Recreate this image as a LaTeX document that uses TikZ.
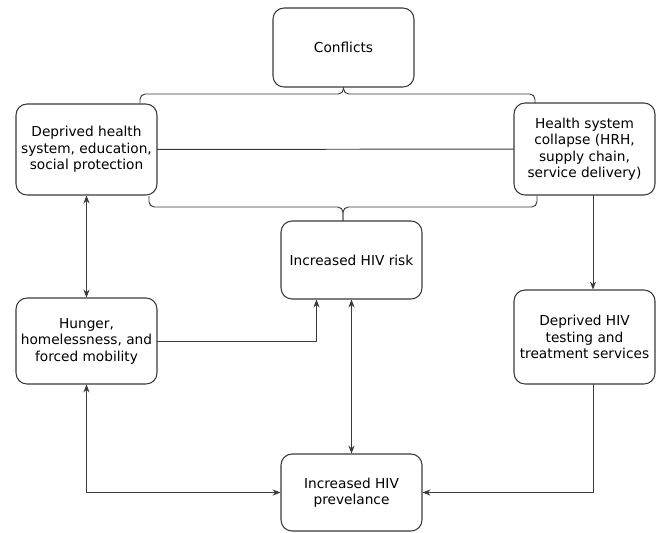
\documentclass[tikz,border=0pt]{standalone}
\usepackage{fontspec}
\setmainfont{DejaVu Sans}
\usetikzlibrary{arrows.meta,calc}
\definecolor{edgegray}{HTML}{3A3A3A}
\begin{document}
\begin{tikzpicture}[x=0.02cm,y=-0.02cm,font=\fontsize{7.8}{9.4}\selectfont,line join=round,line cap=round,
		>={Stealth[length=4.5pt,width=3.5pt]},
		box/.style={draw=edgegray,line width=0.6pt,rounded corners=0.22cm,align=center,minimum width=2.82cm,inner sep=2pt},
		link/.style={draw=edgegray,line width=0.55pt}]
	\useasboundingbox (0,0) rectangle (657,532);
	
	% boxes
	\node[box,minimum height=1.58cm] (conf) at (343.5,47.5) {Conflicts};
	\node[box,minimum height=1.82cm] (dhs) at (86.5,149.5) {Deprived health\\system, education,\\social protection};
	\node[box,minimum height=1.84cm] (hsc) at (584.5,149) {Health system\\collapse (HRH,\\supply chain,\\service delivery)};
	\node[box,minimum height=1.56cm] (risk) at (351.5,260) {Increased HIV risk};
	\node[box,minimum height=1.72cm] (hunger) at (86.5,341) {Hunger,\\homelessness, and\\forced mobility};
	\node[box,minimum height=1.88cm] (dhiv) at (584.5,337) {Deprived HIV\\testing and\\treatment services};
	\node[box,minimum height=1.54cm] (prev) at (351.5,492.5) {Increased HIV\\prevelance};
	
	% brace ends
	\coordinate (TL) at (140,103);
	\coordinate (TR) at (535,103);
	\coordinate (BL) at (149,196);
	\coordinate (BR) at (537,196);
	
	% braces
	\draw[link,rounded corners=3pt] (TL) |- (conf.south|-0,94) -- (conf.south);
	\draw[link,rounded corners=3pt] (TR) |- (conf.south|-0,94) -- (conf.south);
	\draw[link,rounded corners=3pt] (BL) |- (343,207) -- (343,221);
	\draw[link,rounded corners=3pt] (BR) |- (343,207) -- (343,221);
	
	\draw[link] (dhs) -- (hsc);
	
	% arrows
	\draw[link,<->] (dhs) -- (hunger);
	\draw[link,->] (hunger.east) -| ($(risk.south)+(-35,0)$);
	\draw[link,<->] (risk) -- (prev);
	\draw[link,->] ($(hsc.south)+(8.5,0)$) -- ($(dhiv.north)+(8.5,0)$);
	\draw[link,<->] (hunger.south) |- (prev.west);
	\draw[link,->] ($(dhiv.south)+(8.5,0)$) |- (prev.east);
\end{tikzpicture}
\end{document}
